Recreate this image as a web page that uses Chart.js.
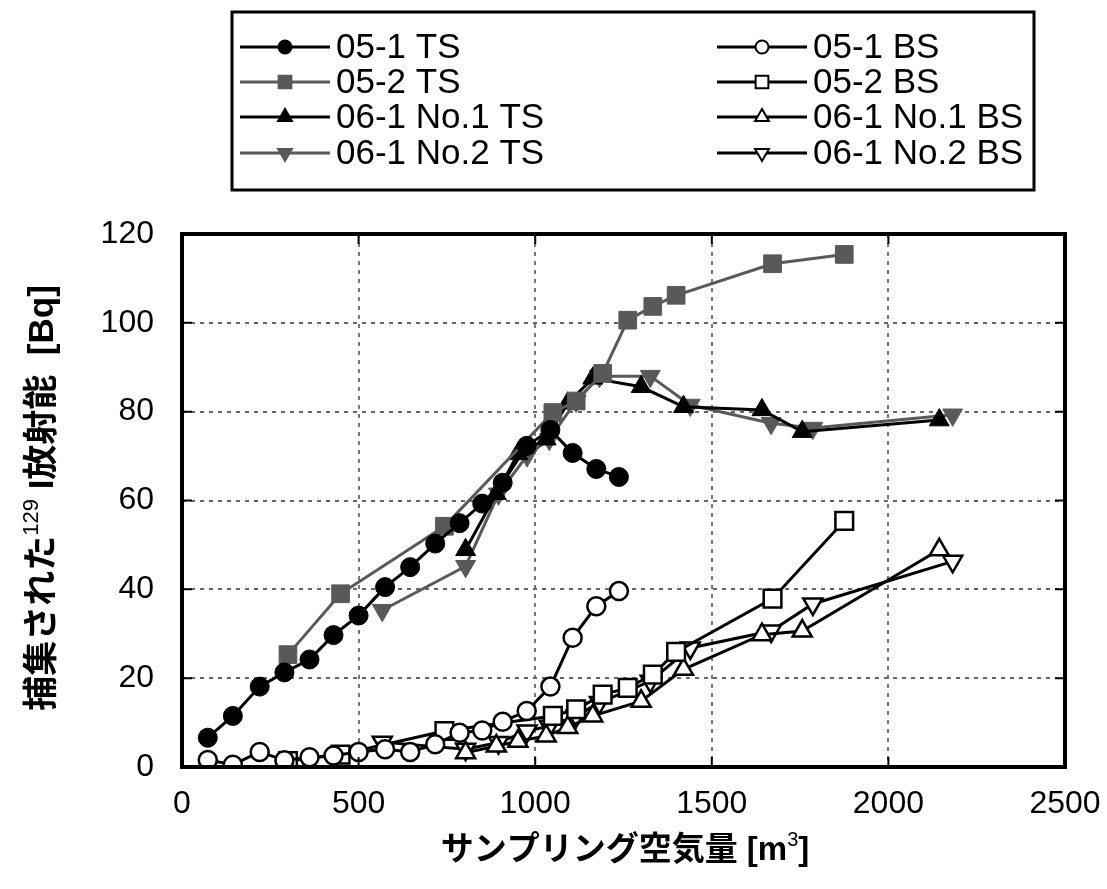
<!DOCTYPE html>
<html>
<head>
<meta charset="utf-8">
<script src="https://cdn.jsdelivr.net/npm/chart.js@4/dist/chart.umd.min.js"></script>
<style>
  html, body { margin: 0; padding: 0; background: #fff; }
</style>
</head>
<body>
<canvas id="chart" width="1107" height="889"></canvas>
<script>
// sampling air volume [m3] for each run
const air051 = [73, 144, 220, 290, 361, 429, 500, 575, 646, 717, 786, 850, 908, 976, 1043, 1106, 1173, 1237];
const air052 = [300, 449, 743, 1050, 1116, 1191, 1262, 1333, 1399, 1672, 1875];
const air0611 = [803, 890, 951, 1031, 1092, 1163, 1300, 1420, 1642, 1756, 2144];
const air0612 = [567, 803, 896, 977, 1040, 1116, 1182, 1326, 1439, 1668, 1786, 2182];

// captured I-129 activity [Bq]
const ts051 = [6.6, 11.5, 18.1, 21.3, 24.2, 29.7, 34.1, 40.5, 45.0, 50.3, 54.9, 59.3, 64.0, 72.3, 75.9, 70.7, 67.1, 65.3];
const bs051 = [1.6, 0.5, 3.4, 1.5, 2.2, 2.6, 3.4, 4.0, 3.4, 5.1, 7.7, 8.2, 10.2, 12.6, 18.1, 29.1, 36.2, 39.6];
const ts052 = [25.3, 39.0, 54.2, 79.8, 82.4, 88.6, 100.6, 103.7, 106.2, 113.3, 115.4];
const bs052 = [1.35, 2.8, 8.1, 11.5, 13.0, 16.3, 17.8, 20.8, 25.9, 37.9, 55.4];
const ts0611 = [48.9, 61.5, 70.5, 73.8, 81.9, 87.5, 85.6, 81.1, 80.4, 75.5, 78.1];
const bs0611 = [3.2, 4.7, 5.8, 7.0, 8.9, 11.5, 14.8, 22.0, 29.8, 30.6, 48.9];
const ts0612 = [35.3, 45.2, 61.5, 70.1, 73.8, 82.4, 88.0, 88.0, 81.5, 77.4, 76.3, 79.3];
const bs0612 = [5.6, 4.0, 5.5, 8.1, 9.2, 11.5, 14.5, 19.3, 26.8, 30.6, 36.7, 46.3];

const xTicks = [0, 500, 1000, 1500, 2000, 2500];
const yTicks = [0, 20, 40, 60, 80, 100, 120];

const BLACK = "#000000", GRAY = "#595959";
const LATIN = '"Liberation Sans", Arial, sans-serif';
const JP = '"Liberation Sans", "Noto Sans CJK JP", sans-serif';

const pts = (xs, ys) => xs.map((x, i) => ({x: x, y: ys[i]}));

const mk = (label, xs, ys, color, style, rot, filled, r) => ({
    label: label,
    data: pts(xs, ys),
    borderColor: color,
    borderWidth: 3,
    pointStyle: style,
    rotation: rot,
    pointRadius: r,
    pointBorderWidth: filled ? 1 : 2.5,
    pointBorderColor: color,
    pointBackgroundColor: filled ? color : "#ffffff",
    tension: 0
});

const datasets = [
    mk("05-1 TS", air051, ts051, BLACK, "circle", 0, true, 9.5),
    mk("05-1 BS", air051, bs051, BLACK, "circle", 0, false, 9),
    mk("05-2 TS", air052, ts052, GRAY, "rect", 0, true, 12.5),
    mk("05-2 BS", air052, bs052, BLACK, "rect", 0, false, 12.5),
    mk("06-1 No.1 TS", air0611, ts0611, BLACK, "triangle", 0, true, 11.5),
    mk("06-1 No.1 BS", air0611, bs0611, BLACK, "triangle", 0, false, 11),
    mk("06-1 No.2 TS", air0612, ts0612, GRAY, "triangle", 180, true, 11.5),
    mk("06-1 No.2 BS", air0612, bs0612, BLACK, "triangle", 180, false, 11)
];

// legend order: left column TS, right column BS
const legendLeft = [0, 2, 4, 6];
const legendRight = [1, 3, 5, 7];

function drawMark(ctx, ds, x, y, r) {
    ctx.save();
    ctx.beginPath();
    if (ds.pointStyle === "circle") {
        ctx.arc(x, y, r, 0, Math.PI * 2);
    } else if (ds.pointStyle === "rect") {
        const s = r * Math.SQRT1_2;
        ctx.rect(x - s, y - s, 2 * s, 2 * s);
    } else {
        let a = ds.rotation * Math.PI / 180;
        for (let k = 0; k < 3; k++) {
            const px = x + Math.sin(a) * r, py = y - Math.cos(a) * r;
            if (k === 0) ctx.moveTo(px, py); else ctx.lineTo(px, py);
            a += Math.PI * 2 / 3;
        }
        ctx.closePath();
    }
    ctx.fillStyle = ds.pointBackgroundColor;
    ctx.fill();
    ctx.lineWidth = 2;
    ctx.strokeStyle = ds.pointBorderColor;
    ctx.stroke();
    ctx.restore();
}

// draws a run of [text, font, dy] pieces centred on 0
function drawPieces(ctx, pieces) {
    let total = 0;
    pieces.forEach(p => { ctx.font = p[1]; total += ctx.measureText(p[0]).width; });
    let x = -total / 2;
    pieces.forEach(p => {
        ctx.font = p[1];
        ctx.fillText(p[0], x, p[2]);
        x += ctx.measureText(p[0]).width;
    });
}

const decor = {
    id: "decor",
    afterDraw(chart) {
        const ctx = chart.ctx;
        const a = chart.chartArea;
        const xs = chart.scales.x, ys = chart.scales.y;
        ctx.save();

        // inner tick marks
        ctx.strokeStyle = "#000";
        ctx.lineWidth = 2;
        ctx.beginPath();
        yTicks.forEach(v => {
            const py = ys.getPixelForValue(v);
            ctx.moveTo(a.left, py); ctx.lineTo(a.left + 10, py);
            ctx.moveTo(a.right, py); ctx.lineTo(a.right - 10, py);
        });
        xTicks.forEach(v => {
            const px = xs.getPixelForValue(v);
            ctx.moveTo(px, a.bottom); ctx.lineTo(px, a.bottom - 10);
            ctx.moveTo(px, a.top); ctx.lineTo(px, a.top + 10);
        });
        ctx.stroke();

        // frame
        ctx.lineWidth = 4;
        ctx.strokeRect(a.left, a.top, a.right - a.left, a.bottom - a.top);

        // tick labels
        ctx.fillStyle = "#000";
        ctx.font = "32px " + LATIN;
        ctx.textBaseline = "middle";
        ctx.textAlign = "right";
        yTicks.forEach(v => ctx.fillText(String(v), a.left - 28, ys.getPixelForValue(v)));
        ctx.textAlign = "center";
        xTicks.forEach(v => ctx.fillText(String(v), xs.getPixelForValue(v), a.bottom + 37));

        // axis titles
        ctx.textAlign = "left";
        ctx.textBaseline = "alphabetic";
        ctx.save();
        ctx.translate(625, 860);
        drawPieces(ctx, [["サンプリング空気量 [m", "bold 33px " + JP, 0], ["3", "20px " + LATIN, -14], ["]", "bold 33px " + JP, 0]]);
        ctx.restore();
        ctx.save();
        ctx.translate(53, 498);
        ctx.rotate(-Math.PI / 2);
        drawPieces(ctx, [["捕集された", "bold 35px " + JP, 0], ["129", "22px " + LATIN, -15], [" I放射能  [Bq]", "bold 35px " + JP, 0]]);
        ctx.restore();

        // legend box
        ctx.lineWidth = 3;
        ctx.strokeRect(232, 12, 802, 178);
        ctx.font = "35px " + LATIN;
        ctx.textBaseline = "middle";
        const rows = [47, 82, 117, 153];
        [[legendLeft, 240], [legendRight, 717]].forEach(col => {
            col[0].forEach((idx, i) => {
                const ds = chart.data.datasets[idx];
                const y = rows[i], x0 = col[1];
                ctx.strokeStyle = ds.borderColor;
                ctx.lineWidth = 3;
                ctx.beginPath();
                ctx.moveTo(x0, y); ctx.lineTo(x0 + 90, y);
                ctx.stroke();
                const r = ds.pointStyle === "circle" ? 6.5 : (ds.pointStyle === "rect" ? 9 : 8);
                drawMark(ctx, ds, x0 + 45, y, r);
                ctx.fillStyle = "#000";
                ctx.fillText(ds.label, x0 + 96, y + 1);
            });
        });
        ctx.restore();
    }
};

new Chart(document.getElementById("chart"), {
    type: "line",
    data: { datasets: datasets },
    options: {
        responsive: false,
        animation: false,
        layout: { padding: { top: 234, right: 42, left: 0, bottom: 0 } },
        plugins: { legend: { display: false }, tooltip: { enabled: false } },
        scales: {
            x: {
                type: "linear",
                min: 0, max: 2500,
                ticks: { stepSize: 500, display: false },
                grid: { color: "#777", lineWidth: 2, drawTicks: false },
                border: { display: false, dash: [4, 5] },
                afterFit: s => { s.height = 122; }
            },
            y: {
                min: 0, max: 120,
                ticks: { stepSize: 20, display: false },
                grid: { color: "#666", lineWidth: 2, drawTicks: false },
                border: { display: false, dash: [4, 5] },
                afterFit: s => { s.width = 182; }
            }
        }
    },
    plugins: [decor]
});
</script>
</body>
</html>
